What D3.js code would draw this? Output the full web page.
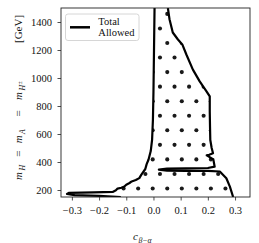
<!DOCTYPE html>
<html>
<head>
<meta charset="utf-8">
<script src="https://cdn.jsdelivr.net/npm/d3@7"></script>
<style>
  html, body { margin: 0; padding: 0; background: #fff; }
</style>
</head>
<body>
<div id="chart"></div>
<script>
const xTicks = [-0.3, -0.2, -0.1, 0.0, 0.1, 0.2, 0.3];
const yTicks = [200, 400, 600, 800, 1000, 1200, 1400];
const legendLines = ['Total', 'Allowed'];

// allowed-region edge, left side: thin tail at the bottom, then up to the top
const leftEdge = [
  [-0.12, 150], [-0.2, 158], [-0.29, 163], [-0.318, 172], [-0.31, 180],
  [-0.22, 183], [-0.15, 186], [-0.138, 198], [-0.132, 210], [-0.118, 216],
  [-0.107, 225], [-0.1, 238], [-0.088, 250], [-0.08, 261], [-0.065, 271],
  [-0.052, 285], [-0.045, 308], [-0.038, 328], [-0.03, 350], [-0.025, 385],
  [-0.018, 418], [-0.01, 478], [-0.005, 560], [-0.002, 700], [0.0, 900],
  [0.002, 1200], [0.004, 1500]
];
// right side: top down to the bottom, with the notch and the slit near 350 GeV
const rightEdge = [
  [0.053, 1500], [0.059, 1420], [0.071, 1325], [0.09, 1275], [0.106, 1240],
  [0.121, 1168], [0.145, 1060], [0.17, 976], [0.195, 905], [0.207, 869],
  [0.207, 760], [0.208, 650], [0.209, 557], [0.214, 500], [0.219, 463],
  [0.205, 452], [0.196, 447], [0.205, 437], [0.213, 427], [0.22, 420],
  [0.225, 367], [0.2, 357], [0.12, 355], [0.05, 353], [0.02, 346],
  [0.05, 339], [0.12, 337], [0.2, 336], [0.244, 332], [0.268, 284],
  [0.281, 224], [0.293, 150]
];

const W = 259, H = 243;
const margin = { top: 8, right: 9, bottom: 46, left: 61 };
const iw = W - margin.left - margin.right;
const ih = H - margin.top - margin.bottom;
const serif = "'Liberation Serif', 'Times New Roman', serif";

const svg = d3.select('#chart').append('svg')
  .attr('width', W).attr('height', H)
  .style('display', 'block')
  .style('font-family', serif);

const x = d3.scaleLinear().domain([-0.34, 0.355]).range([0, iw]);
const y = d3.scaleLinear().domain([150, 1500]).range([ih, 0]);

const g = svg.append('g').attr('transform', `translate(${margin.left},${margin.top})`);
const line = d3.line().x((d) => x(d[0])).y((d) => y(d[1]));

const defs = svg.append('defs');
defs.append('clipPath').attr('id', 'plot')
  .append('rect').attr('width', iw).attr('height', ih);
defs.append('clipPath').attr('id', 'region')
  .append('path').attr('d', line(leftEdge.concat(rightEdge)) + 'Z');

// '.' hatch: staggered grid in pixel space, clipped to the allowed region
const hs = 14.55;
const hx0 = 152.7 - margin.left, hy0 = 188.5 - margin.top;
const hatch = [];
d3.range(-14, 2).forEach((r) => {
  const off = r % 2 === 0 ? 0 : hs / 2;
  d3.range(-8, 8).forEach((c) => hatch.push([hx0 + c * hs + off, hy0 + r * hs]));
});

const plot = g.append('g').attr('clip-path', 'url(#plot)');
plot.append('g').attr('clip-path', 'url(#region)')
  .selectAll('circle')
  .data(hatch)
  .join('circle')
  .attr('cx', (d) => d[0])
  .attr('cy', (d) => d[1])
  .attr('r', 2.05)
  .attr('fill', '#1a1a1a');

plot.selectAll('path.edge')
  .data([leftEdge, rightEdge])
  .join('path')
  .attr('class', 'edge')
  .attr('d', line)
  .attr('fill', 'none')
  .attr('stroke', '#000')
  .attr('stroke-width', 2.2)
  .attr('stroke-linejoin', 'round');

// axes
const xAxis = g.append('g')
  .attr('transform', `translate(0,${ih})`)
  .call(d3.axisBottom(x).tickValues(xTicks).tickSize(3.5).tickPadding(6).tickFormat(d3.format('.1f')));
const yAxis = g.append('g')
  .call(d3.axisLeft(y).tickValues(yTicks).tickSize(3.5).tickPadding(5.5).tickFormat(d3.format('d')));

[xAxis, yAxis].forEach((a) => {
  a.select('.domain').remove();
  a.attr('font-family', serif).attr('font-size', 10.5);
  a.selectAll('line').attr('stroke', '#222').attr('stroke-width', 0.8);
  a.selectAll('text').attr('fill', '#111');
});

g.append('rect')
  .attr('width', iw).attr('height', ih)
  .attr('fill', 'none').attr('stroke', '#222').attr('stroke-width', 0.9);

// legend
const lg = g.append('g');
lg.append('rect')
  .attr('x', 4.5).attr('y', 6).attr('width', 73.5).attr('height', 26.5).attr('rx', 2.5)
  .attr('fill', '#fff').attr('fill-opacity', 0.85)
  .attr('stroke', '#ccc').attr('stroke-width', 0.8);
lg.append('line')
  .attr('x1', 9).attr('x2', 29).attr('y1', 19.3).attr('y2', 19.3)
  .attr('stroke', '#000').attr('stroke-width', 2.5);
lg.selectAll('text')
  .data(legendLines)
  .join('text')
  .attr('x', 37.3)
  .attr('y', (d, i) => 17 + i * 11)
  .attr('font-size', 10.5)
  .attr('fill', '#111')
  .text((d) => d);

// x label: c_{beta-alpha}
const xl = svg.append('text')
  .attr('x', 133).attr('y', 240)
  .attr('fill', '#111').attr('font-size', 11);
xl.append('tspan').attr('font-style', 'italic').text('c');
xl.append('tspan').attr('font-style', 'italic').attr('font-size', 7.8).attr('dy', 2.5).attr('dx', 0.5).text('β−α');

// y label: m_H = m_A = m_{H±} [GeV]
const yl = svg.append('text')
  .attr('transform', 'translate(22,180) rotate(-90)')
  .attr('fill', '#111').attr('font-size', 11);
const parts = [
  { t: 'm', x: 0, it: true },
  { t: 'H', x: 9.5, it: true, sub: true },
  { t: '=', x: 23.3 },
  { t: 'm', x: 36.7, it: true },
  { t: 'A', x: 46, it: true, sub: true },
  { t: '=', x: 63.5 },
  { t: 'm', x: 80, it: true },
  { t: 'H', x: 89.5, it: true, sub: true },
  { t: '±', x: 95.5, sup: true },
  { t: '[GeV]', x: 137 }
];
parts.forEach((p) => {
  yl.append('tspan')
    .attr('x', p.x)
    .attr('y', p.sub ? 2.5 : p.sup ? -0.5 : 0)
    .attr('font-style', p.it ? 'italic' : null)
    .attr('font-size', p.sub ? 7.8 : p.sup ? 6 : null)
    .text(p.t);
});
</script>
</body>
</html>
